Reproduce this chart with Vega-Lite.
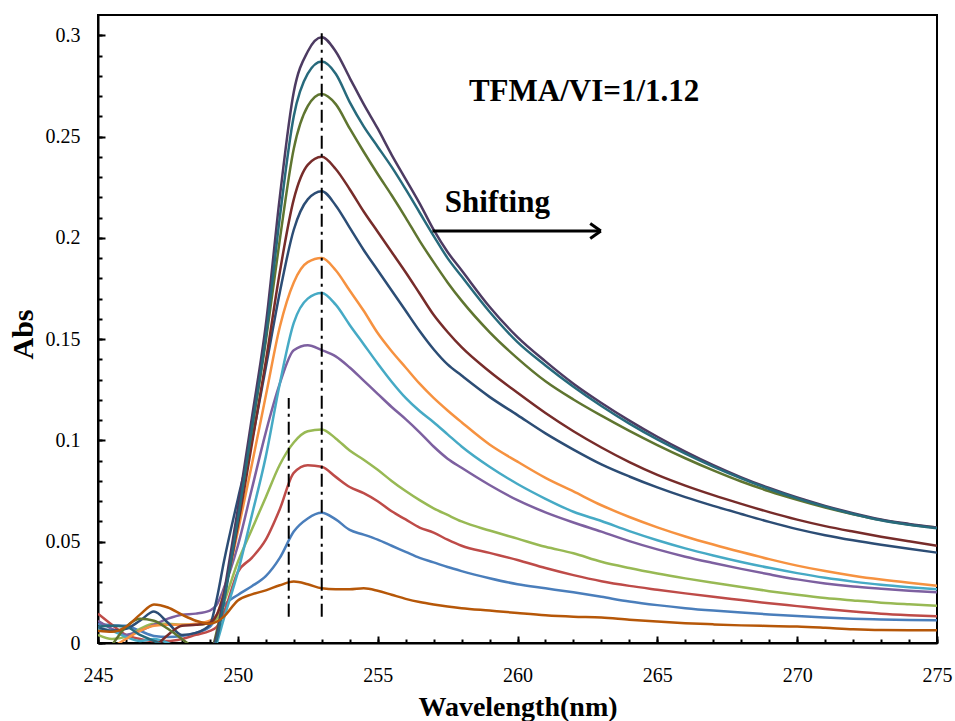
{
  "$schema": "https://vega.github.io/schema/vega-lite/v6.json",
  "width": 839,
  "height": 628,
  "autosize": {"type": "none"},
  "padding": {"left": 98, "top": 15, "right": 18, "bottom": 78},
  "background": "white",
  "config": {
    "view": {"stroke": "black", "strokeWidth": 2},
    "font": "Liberation Serif",
    "axis": {
      "grid": false,
      "labelFont": "Liberation Serif",
      "labelFontSize": 20,
      "labelColor": "black",
      "labelFlush": false,
      "tickColor": "black",
      "tickWidth": 2,
      "domainColor": "black",
      "domainWidth": 2,
      "titleFont": "Liberation Serif",
      "titleColor": "black",
      "titleFontWeight": "bold"
    }
  },
  "datasets": {
    "spectra": [
      {"x":245,"s01":0.0094,"s02":0.0145,"s03":0.004,"s04":0.011,"s05":0.007,"s06":-0.004,"s07":0.008,"s08":-0.006,"s09":-0.01,"s10":-0.004,"s11":0.008,"s12":0.006},
      {"x":245.5,"s01":0.0088,"s02":0.009,"s03":0.002,"s04":0.007,"s05":0.006,"s06":-0.002,"s07":0.006,"s08":-0.008,"s09":-0.001,"s10":-0.004,"s11":0.0085,"s12":0.0055},
      {"x":246,"s01":0.0085,"s02":0.004,"s03":0.003,"s04":0.004,"s05":0.003,"s06":0.002,"s07":0.007,"s08":-0.006,"s09":0.008,"s10":-0.004,"s11":0.008,"s12":0.008},
      {"x":246.5,"s01":0.006,"s02":0.002,"s03":0.007,"s04":0.006,"s05":0.001,"s06":0.006,"s07":0.011,"s08":-0.004,"s09":0.012,"s10":-0.004,"s11":0.004,"s12":0.014},
      {"x":247,"s01":0.0035,"s02":0.001,"s03":0.0095,"s04":0.009,"s05":0.002,"s06":0.0085,"s07":0.0155,"s08":-0.002,"s09":0.011,"s10":-0.004,"s11":0.001,"s12":0.019},
      {"x":247.5,"s01":0.003,"s02":0.001,"s03":0.0095,"s04":0.012,"s05":0.0,"s06":0.009,"s07":0.01,"s08":0.004,"s09":0.007,"s10":-0.004,"s11":-0.002,"s12":0.0175},
      {"x":248,"s01":0.0035,"s02":0.002,"s03":0.009,"s04":0.014,"s05":-0.004,"s06":0.009,"s07":0.004,"s08":0.0085,"s09":0.002,"s10":-0.004,"s11":-0.004,"s12":0.014},
      {"x":248.5,"s01":0.005,"s02":0.004,"s03":0.009,"s04":0.0145,"s05":-0.008,"s06":0.0095,"s07":0.005,"s08":0.009,"s09":-0.003,"s10":-0.004,"s11":-0.005,"s12":0.011},
      {"x":249,"s01":0.008,"s02":0.006,"s03":0.01,"s04":0.016,"s05":-0.01,"s06":0.011,"s07":0.009,"s08":0.01,"s09":-0.005,"s10":-0.004,"s11":-0.006,"s12":0.0095},
      {"x":249.25,"s01":0.013,"s02":0.008,"s03":0.012,"s04":0.019,"s05":0.0,"s06":0.014,"s07":0.022,"s08":0.014,"s09":0.006,"s10":0.004,"s11":0.002,"s12":0.0105},
      {"x":249.5,"s01":0.0185,"s02":0.015,"s03":0.02,"s04":0.027,"s05":0.012,"s06":0.025,"s07":0.04,"s08":0.024,"s09":0.022,"s10":0.024,"s11":0.02,"s12":0.013},
      {"x":250,"s01":0.0237,"s02":0.035,"s03":0.04,"s04":0.048,"s05":0.035,"s06":0.055,"s07":0.071,"s08":0.058,"s09":0.062,"s10":0.066,"s11":0.061,"s12":0.021},
      {"x":250.5,"s01":0.028,"s02":0.042,"s03":0.056,"s04":0.076,"s05":0.063,"s06":0.088,"s07":0.1,"s08":0.098,"s09":0.105,"s10":0.111,"s11":0.106,"s12":0.024},
      {"x":251,"s01":0.033,"s02":0.051,"s03":0.072,"s04":0.104,"s05":0.092,"s06":0.122,"s07":0.136,"s08":0.139,"s09":0.149,"s10":0.157,"s11":0.151,"s12":0.026},
      {"x":251.5,"s01":0.042,"s02":0.066,"s03":0.088,"s04":0.128,"s05":0.128,"s06":0.156,"s07":0.173,"s08":0.183,"s09":0.199,"s10":0.22,"s11":0.21,"s12":0.0285},
      {"x":252,"s01":0.055,"s02":0.084,"s03":0.099,"s04":0.1445,"s05":0.158,"s06":0.178,"s07":0.204,"s08":0.219,"s09":0.244,"s10":0.272,"s11":0.26,"s12":0.0303},
      {"x":252.5,"s01":0.0615,"s02":0.0878,"s03":0.1045,"s04":0.147,"s05":0.17,"s06":0.188,"s07":0.219,"s08":0.236,"s09":0.265,"s10":0.292,"s11":0.281,"s12":0.029},
      {"x":253,"s01":0.0643,"s02":0.087,"s03":0.1054,"s04":0.1446,"s05":0.1728,"s06":0.19,"s07":0.223,"s08":0.24,"s09":0.271,"s10":0.299,"s11":0.287,"s12":0.027},
      {"x":253.5,"s01":0.061,"s02":0.082,"s03":0.101,"s04":0.1415,"s05":0.167,"s06":0.184,"s07":0.216,"s08":0.234,"s09":0.266,"s10":0.292,"s11":0.281,"s12":0.0265},
      {"x":254,"s01":0.0558,"s02":0.077,"s03":0.095,"s04":0.136,"s05":0.157,"s06":0.174,"s07":0.205,"s08":0.224,"s09":0.254,"s10":0.279,"s11":0.267,"s12":0.0265},
      {"x":254.5,"s01":0.0535,"s02":0.074,"s03":0.0905,"s04":0.1295,"s05":0.1475,"s06":0.164,"s07":0.194,"s08":0.213,"s09":0.2425,"s10":0.266,"s11":0.255,"s12":0.027},
      {"x":255,"s01":0.051,"s02":0.07,"s03":0.0855,"s04":0.123,"s05":0.138,"s06":0.153,"s07":0.184,"s08":0.203,"s09":0.2315,"s10":0.254,"s11":0.245,"s12":0.0258},
      {"x":255.5,"s01":0.048,"s02":0.065,"s03":0.08,"s04":0.1165,"s05":0.129,"s06":0.144,"s07":0.174,"s08":0.193,"s09":0.221,"s10":0.241,"s11":0.235,"s12":0.0238},
      {"x":256,"s01":0.045,"s02":0.061,"s03":0.075,"s04":0.1105,"s05":0.121,"s06":0.136,"s07":0.164,"s08":0.183,"s09":0.21,"s10":0.229,"s11":0.224,"s12":0.0218},
      {"x":256.5,"s01":0.042,"s02":0.057,"s03":0.0705,"s04":0.104,"s05":0.1145,"s06":0.128,"s07":0.154,"s08":0.1725,"s09":0.1985,"s10":0.217,"s11":0.2125,"s12":0.0202},
      {"x":257,"s01":0.0398,"s02":0.0545,"s03":0.0665,"s04":0.097,"s05":0.109,"s06":0.121,"s07":0.145,"s08":0.162,"s09":0.188,"s10":0.204,"s11":0.201,"s12":0.019},
      {"x":257.5,"s01":0.0375,"s02":0.051,"s03":0.0632,"s04":0.091,"s05":0.103,"s06":0.1148,"s07":0.1375,"s08":0.1535,"s09":0.178,"s10":0.193,"s11":0.19,"s12":0.018},
      {"x":258,"s01":0.0355,"s02":0.048,"s03":0.06,"s04":0.0865,"s05":0.097,"s06":0.109,"s07":0.132,"s08":0.146,"s09":0.169,"s10":0.184,"s11":0.181,"s12":0.0172},
      {"x":259,"s01":0.032,"s02":0.0445,"s03":0.0555,"s04":0.078,"s05":0.087,"s06":0.098,"s07":0.1215,"s08":0.134,"s09":0.1535,"s10":0.166,"s11":0.1635,"s12":0.016},
      {"x":260,"s01":0.029,"s02":0.041,"s03":0.0515,"s04":0.0705,"s05":0.0785,"s06":0.0895,"s07":0.1125,"s08":0.1235,"s09":0.1405,"s10":0.151,"s11":0.1485,"s12":0.0148},
      {"x":261,"s01":0.027,"s02":0.037,"s03":0.0475,"s04":0.0645,"s05":0.0712,"s06":0.0815,"s07":0.1035,"s08":0.1135,"s09":0.1292,"s10":0.139,"s11":0.137,"s12":0.0137},
      {"x":262,"s01":0.025,"s02":0.0335,"s03":0.0443,"s04":0.0595,"s05":0.0648,"s06":0.0748,"s07":0.0955,"s08":0.1045,"s09":0.1202,"s10":0.128,"s11":0.1265,"s12":0.013},
      {"x":263,"s01":0.0228,"s02":0.0305,"s03":0.0401,"s04":0.055,"s05":0.0602,"s06":0.068,"s07":0.0882,"s08":0.0965,"s09":0.1122,"s10":0.1185,"s11":0.117,"s12":0.0126},
      {"x":264,"s01":0.0205,"s02":0.0282,"s03":0.037,"s04":0.0503,"s05":0.0552,"s06":0.0622,"s07":0.0822,"s08":0.0893,"s09":0.1047,"s10":0.1098,"s11":0.1083,"s12":0.0115},
      {"x":265,"s01":0.0187,"s02":0.0263,"s03":0.0343,"s04":0.0462,"s05":0.0507,"s06":0.0571,"s07":0.0768,"s08":0.083,"s09":0.0977,"s10":0.1018,"s11":0.1005,"s12":0.0106},
      {"x":266,"s01":0.0172,"s02":0.0245,"s03":0.0319,"s04":0.0426,"s05":0.0467,"s06":0.0526,"s07":0.072,"s08":0.0777,"s09":0.0912,"s10":0.0945,"s11":0.0935,"s12":0.0098},
      {"x":267,"s01":0.016,"s02":0.0228,"s03":0.0297,"s04":0.0395,"s05":0.0432,"s06":0.0486,"s07":0.0677,"s08":0.073,"s09":0.0852,"s10":0.0878,"s11":0.0871,"s12":0.0092},
      {"x":268,"s01":0.015,"s02":0.0212,"s03":0.0276,"s04":0.0366,"s05":0.04,"s06":0.0449,"s07":0.0637,"s08":0.0687,"s09":0.0797,"s10":0.0818,"s11":0.0813,"s12":0.0087},
      {"x":269,"s01":0.0141,"s02":0.0196,"s03":0.0256,"s04":0.0339,"s05":0.0371,"s06":0.0414,"s07":0.0598,"s08":0.0646,"s09":0.0749,"s10":0.0765,"s11":0.076,"s12":0.0084},
      {"x":270,"s01":0.0133,"s02":0.0182,"s03":0.0238,"s04":0.0314,"s05":0.0345,"s06":0.0382,"s07":0.0562,"s08":0.0609,"s09":0.0707,"s10":0.0718,"s11":0.0714,"s12":0.0081},
      {"x":271,"s01":0.0126,"s02":0.0168,"s03":0.0222,"s04":0.0294,"s05":0.0322,"s06":0.0355,"s07":0.0532,"s08":0.0577,"s09":0.0669,"s10":0.0677,"s11":0.0673,"s12":0.0075},
      {"x":272,"s01":0.012,"s02":0.0155,"s03":0.021,"s04":0.0279,"s05":0.0303,"s06":0.0332,"s07":0.0507,"s08":0.055,"s09":0.0636,"s10":0.0641,"s11":0.0637,"s12":0.0068},
      {"x":273,"s01":0.0116,"s02":0.0144,"s03":0.0199,"s04":0.0268,"s05":0.0287,"s06":0.0313,"s07":0.0485,"s08":0.0525,"s09":0.0607,"s10":0.061,"s11":0.0606,"s12":0.0064},
      {"x":274,"s01":0.0113,"s02":0.0137,"s03":0.0191,"s04":0.0258,"s05":0.0275,"s06":0.0297,"s07":0.0465,"s08":0.0502,"s09":0.0585,"s10":0.0588,"s11":0.0584,"s12":0.0063},
      {"x":275,"s01":0.0112,"s02":0.0132,"s03":0.0184,"s04":0.025,"s05":0.0265,"s06":0.0283,"s07":0.0446,"s08":0.048,"s09":0.057,"s10":0.057,"s11":0.0566,"s12":0.0063}
    ],
    "guides": [
      {"x": 253.0, "y": 0.013, "y2": 0.301},
      {"x": 251.82, "y": 0.013, "y2": 0.121}
    ],
    "arrow": [
      {"x": 256.96, "y": 0.2034, "x2": 262.98, "y2": 0.2034},
      {"x": 262.6, "y": 0.2071, "x2": 262.98, "y2": 0.2034},
      {"x": 262.6, "y": 0.1997, "x2": 262.98, "y2": 0.2034}
    ],
    "notes": [
      {"label": "TFMA/VI=1/1.12", "x": 262.38, "y": 0.2676},
      {"label": "Shifting", "x": 259.28, "y": 0.2128}
    ]
  },
  "resolve": {"axis": {"x": "independent", "y": "independent"}},
  "layer": [
    {
      "data": {"name": "spectra"},
      "transform": [{"fold": ["s01","s02","s03","s04","s05","s06","s07","s08","s09","s10","s11","s12"], "as": ["series", "abs"]}],
      "mark": {"type": "line", "strokeWidth": 2.5, "interpolate": "monotone", "clip": true},
      "encoding": {
        "x": {"field": "x", "type": "quantitative",
              "scale": {"domain": [245, 275], "nice": false, "zero": false},
              "axis": {"orient": "bottom", "values": [245,246,247,248,249,250,251,252,253,254,255,256,257,258,259,260,261,262,263,264,265,266,267,268,269,270,271,272,273,274,275], "labels": false, "domain": false, "tickSize": -4, "title": null}},
        "y": {"field": "abs", "type": "quantitative",
              "scale": {"domain": [0, 0.31], "nice": false, "zero": false},
              "axis": {"orient": "left", "values": [0,0.01,0.02,0.03,0.04,0.05,0.06,0.07,0.08,0.09,0.1,0.11,0.12,0.13,0.14,0.15,0.16,0.17,0.18,0.19,0.2,0.21,0.22,0.23,0.24,0.25,0.26,0.27,0.28,0.29,0.3], "labels": false, "domain": false, "tickSize": -4, "title": null}},
        "color": {"field": "series", "type": "nominal", "legend": null,
                  "scale": {"domain": ["s01","s02","s03","s04","s05","s06","s07","s08","s09","s10","s11","s12"],
                            "range": ["#4A7EBB","#BE4B48","#98B954","#7D60A0","#46AAC5","#F69240","#2C4D75","#772C2A","#5F7530","#4D3B62","#276A7C","#B65708"]}}
      }
    },
    {
      "data": {"name": "guides"},
      "mark": {"type": "rule", "color": "black", "strokeWidth": 2, "strokeDash": [13, 5, 3, 5]},
      "encoding": {
        "x": {"field": "x", "type": "quantitative",
              "axis": {"orient": "bottom", "values": [245,250,255,260,265,270,275], "tickSize": -7, "labelPadding": 29, "labelFont": "Liberation Serif", "labelFontSize": 20, "labelFlush": false, "title": "Wavelength(nm)", "titleFontSize": 28, "titleY": 72, "titleBaseline": "alphabetic"}},
        "y": {"field": "y", "type": "quantitative",
              "axis": {"orient": "left", "values": [0,0.05,0.1,0.15,0.2,0.25,0.3], "format": "~g", "tickSize": -7, "labelPadding": 25, "labelFont": "Liberation Serif", "labelFontSize": 20, "labelFlush": false, "title": "Abs", "titleFontSize": 30, "titleX": -66, "titleY": 319, "titleAngle": -90, "titleBaseline": "alphabetic", "titleAlign": "center"}},
        "y2": {"field": "y2"}
      }
    },
    {
      "data": {"name": "arrow"},
      "mark": {"type": "rule", "color": "black", "strokeWidth": 3},
      "encoding": {
        "x": {"field": "x", "type": "quantitative", "axis": null},
        "y": {"field": "y", "type": "quantitative", "axis": null},
        "x2": {"field": "x2"},
        "y2": {"field": "y2"}
      }
    },
    {
      "data": {"name": "notes"},
      "mark": {"type": "text", "font": "Liberation Serif", "fontWeight": "bold", "fontSize": 31, "color": "black", "align": "center", "baseline": "alphabetic"},
      "encoding": {
        "x": {"field": "x", "type": "quantitative", "axis": null},
        "y": {"field": "y", "type": "quantitative", "axis": null},
        "text": {"field": "label"}
      }
    }
  ]
}
